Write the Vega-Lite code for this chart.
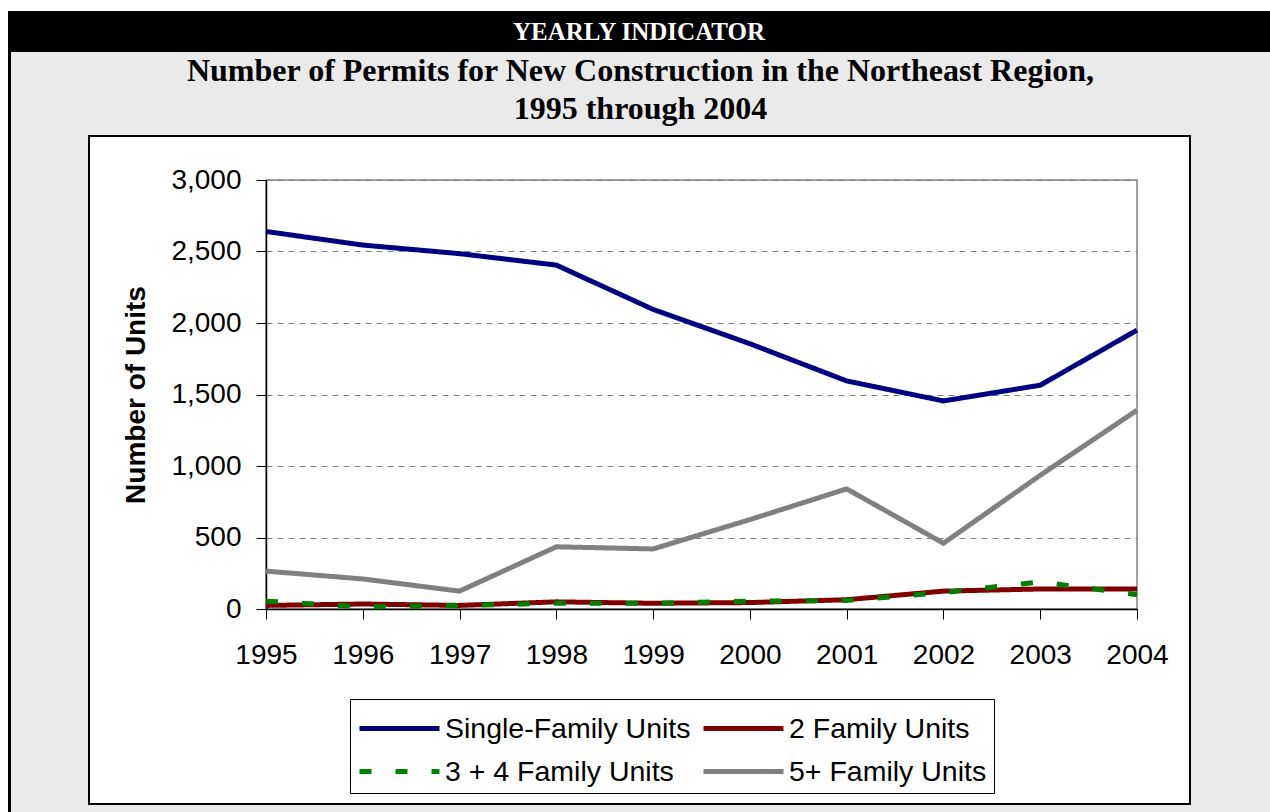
{
  "$schema": "https://vega.github.io/schema/vega-lite/v6.json",
  "background": "white",
  "padding": {"left": 8, "top": 11, "right": 0, "bottom": 0},
  "config": {
    "view": {"stroke": null},
    "axis": {"labelFont": "Liberation Sans", "titleFont": "Liberation Sans", "labelColor": "black", "titleColor": "black"}
  },
  "datasets": {
    "one": [{}],
    "titles": [
      {"line": 1, "label": "Number of Permits for New Construction in the Northeast Region,"},
      {"line": 2, "label": "1995 through 2004"}
    ],
    "permits": [
      {"year": 1995, "series": "Single-Family Units", "value": 2640},
      {"year": 1996, "series": "Single-Family Units", "value": 2545},
      {"year": 1997, "series": "Single-Family Units", "value": 2485},
      {"year": 1998, "series": "Single-Family Units", "value": 2405},
      {"year": 1999, "series": "Single-Family Units", "value": 2095},
      {"year": 2000, "series": "Single-Family Units", "value": 1855},
      {"year": 2001, "series": "Single-Family Units", "value": 1595},
      {"year": 2002, "series": "Single-Family Units", "value": 1455},
      {"year": 2003, "series": "Single-Family Units", "value": 1565},
      {"year": 2004, "series": "Single-Family Units", "value": 1950},
      {"year": 1995, "series": "2 Family Units", "value": 25},
      {"year": 1996, "series": "2 Family Units", "value": 35},
      {"year": 1997, "series": "2 Family Units", "value": 25},
      {"year": 1998, "series": "2 Family Units", "value": 50},
      {"year": 1999, "series": "2 Family Units", "value": 40},
      {"year": 2000, "series": "2 Family Units", "value": 45},
      {"year": 2001, "series": "2 Family Units", "value": 65},
      {"year": 2002, "series": "2 Family Units", "value": 125},
      {"year": 2003, "series": "2 Family Units", "value": 140},
      {"year": 2004, "series": "2 Family Units", "value": 140},
      {"year": 1995, "series": "3 + 4 Family Units", "value": 55},
      {"year": 1996, "series": "3 + 4 Family Units", "value": 15},
      {"year": 1997, "series": "3 + 4 Family Units", "value": 25},
      {"year": 1998, "series": "3 + 4 Family Units", "value": 40},
      {"year": 1999, "series": "3 + 4 Family Units", "value": 40},
      {"year": 2000, "series": "3 + 4 Family Units", "value": 55},
      {"year": 2001, "series": "3 + 4 Family Units", "value": 60},
      {"year": 2002, "series": "3 + 4 Family Units", "value": 115},
      {"year": 2003, "series": "3 + 4 Family Units", "value": 190},
      {"year": 2004, "series": "3 + 4 Family Units", "value": 100},
      {"year": 1995, "series": "5+ Family Units", "value": 265},
      {"year": 1996, "series": "5+ Family Units", "value": 210},
      {"year": 1997, "series": "5+ Family Units", "value": 125},
      {"year": 1998, "series": "5+ Family Units", "value": 435},
      {"year": 1999, "series": "5+ Family Units", "value": 420},
      {"year": 2000, "series": "5+ Family Units", "value": 625},
      {"year": 2001, "series": "5+ Family Units", "value": 840},
      {"year": 2002, "series": "5+ Family Units", "value": 460},
      {"year": 2003, "series": "5+ Family Units", "value": 935},
      {"year": 2004, "series": "5+ Family Units", "value": 1390}
    ]
  },
  "spacing": 0,
  "vconcat": [
    {
      "data": {"name": "one"},
      "width": 1262,
      "height": 41,
      "view": {"fill": "black", "stroke": null},
      "mark": {"type": "text", "text": "YEARLY INDICATOR", "font": "Liberation Serif", "fontWeight": "bold", "fontSize": 25, "color": "white", "align": "center", "baseline": "middle"}
    },
    {
      "spacing": 0,
      "hconcat": [
        {"data": {"name": "one"}, "width": 3, "height": 760, "view": {"fill": "black", "stroke": null}, "mark": {"type": "point", "opacity": 0, "size": 0, "strokeWidth": 0}},
        {
          "spacing": 0,
          "vconcat": [
            {
              "data": {"name": "titles"}, "width": 1259, "height": 83,
              "view": {"fill": "#eaeaea", "stroke": null},
              "mark": {"type": "text", "font": "Liberation Serif", "fontWeight": "bold", "fontSize": 32, "color": "black", "align": "center", "baseline": "middle"},
              "encoding": {
                "y": {"field": "line", "type": "ordinal", "scale": {"type": "point", "padding": 0.592, "align": 0.433}, "axis": null},
                "text": {"field": "label"}
              }
            },
            {
              "spacing": 0,
              "hconcat": [
                {"data": {"name": "one"}, "width": 77, "height": 677, "view": {"fill": "#eaeaea", "stroke": null}, "mark": {"type": "point", "opacity": 0, "size": 0, "strokeWidth": 0}},
                {
                  "spacing": 0,
                  "vconcat": [
                    {
                      "spacing": 0,
                      "hconcat": [
                        {"data": {"name": "one"}, "width": 2, "height": 670, "view": {"fill": "black", "stroke": null}, "mark": {"type": "point", "opacity": 0, "size": 0, "strokeWidth": 0}},
                        {
                          "spacing": 0,
                          "vconcat": [
                            {"data": {"name": "one"}, "width": 1099, "height": 2, "view": {"fill": "black", "stroke": null}, "mark": {"type": "point", "opacity": 0, "size": 0, "strokeWidth": 0}},
                            {
                              "columns": 3,
                              "bounds": "flush",
                              "spacing": 0,
                              "concat": [
                                {"data": {"name": "one"}, "width": 176, "height": 43, "mark": {"type": "point", "opacity": 0, "size": 0, "strokeWidth": 0}},
                                {"data": {"name": "one"}, "width": 871, "height": 43, "mark": {"type": "point", "opacity": 0, "size": 0, "strokeWidth": 0}},
                                {"data": {"name": "one"}, "width": 52, "height": 43, "mark": {"type": "point", "opacity": 0, "size": 0, "strokeWidth": 0}},
                                {"data": {"name": "one"}, "width": 176, "height": 429, "mark": {"type": "point", "opacity": 0, "size": 0, "strokeWidth": 0}},
                                {
                                  "data": {"name": "permits"},
                                  "width": 871,
                                  "height": 429,
                                  "view": {"fill": "white", "stroke": "#808080", "strokeWidth": 1.5},
                                  "mark": {"type": "line", "strokeWidth": 5},
                                  "encoding": {
                                    "x": {
                                      "field": "year",
                                      "type": "ordinal",
                                      "scale": {"type": "point", "padding": 0},
                                      "axis": {"title": null, "labelAngle": 0, "labelFontSize": 28, "labelPadding": 22, "tickSize": 10, "tickColor": "black", "domainColor": "black", "domainWidth": 1.5, "grid": false}
                                    },
                                    "y": {
                                      "field": "value",
                                      "type": "quantitative",
                                      "scale": {"domain": [0, 3000], "nice": false},
                                      "axis": {"values": [0, 500, 1000, 1500, 2000, 2500, 3000], "format": ",d", "title": "Number of Units", "titleFontSize": 28, "titleFontWeight": "bold", "titlePadding": 20, "labelFontSize": 28, "labelPadding": 15, "tickSize": 10, "tickColor": "black", "domainColor": "black", "domainWidth": 1.5, "grid": true, "gridColor": "#808080", "gridDash": [6, 5], "gridWidth": 1}
                                    },
                                    "color": {
                                      "field": "series",
                                      "type": "nominal",
                                      "scale": {"domain": ["Single-Family Units", "2 Family Units", "3 + 4 Family Units", "5+ Family Units"], "range": ["#000080", "#800000", "#008000", "#808080"]},
                                      "legend": {"orient": "none", "legendX": 342, "legendY": 688, "title": null, "columns": 2, "direction": "horizontal", "symbolType": "M-1,0H3", "symbolSize": 1600, "symbolStrokeWidth": 5, "labelFontSize": 28.5, "labelFont": "Liberation Sans", "labelColor": "black", "labelOffset": 43, "labelLimit": 400, "columnPadding": 2, "rowPadding": 6, "padding": 7, "strokeColor": "black", "fillColor": "white"}
                                    },
                                    "strokeDash": {
                                      "field": "series",
                                      "type": "nominal",
                                      "scale": {"domain": ["Single-Family Units", "2 Family Units", "3 + 4 Family Units", "5+ Family Units"], "range": [[1, 0], [1, 0], [12, 24], [1, 0]]},
                                      "legend": {"orient": "none", "legendX": 342, "legendY": 688, "title": null, "columns": 2, "direction": "horizontal", "symbolType": "M-1,0H3", "symbolSize": 1600, "symbolStrokeWidth": 5, "labelFontSize": 28.5, "labelFont": "Liberation Sans", "labelColor": "black", "labelOffset": 43, "labelLimit": 400, "columnPadding": 2, "rowPadding": 6, "padding": 7, "strokeColor": "black", "fillColor": "white"}
                                    }
                                  }
                                },
                                {"data": {"name": "one"}, "width": 52, "height": 429, "mark": {"type": "point", "opacity": 0, "size": 0, "strokeWidth": 0}},
                                {"data": {"name": "one"}, "width": 176, "height": 194, "mark": {"type": "point", "opacity": 0, "size": 0, "strokeWidth": 0}},
                                {"data": {"name": "one"}, "width": 871, "height": 194, "mark": {"type": "point", "opacity": 0, "size": 0, "strokeWidth": 0}},
                                {"data": {"name": "one"}, "width": 52, "height": 194, "mark": {"type": "point", "opacity": 0, "size": 0, "strokeWidth": 0}}
                              ]
                            },
                            {"data": {"name": "one"}, "width": 1099, "height": 2, "view": {"fill": "black", "stroke": null}, "mark": {"type": "point", "opacity": 0, "size": 0, "strokeWidth": 0}}
                          ]
                        },
                        {"data": {"name": "one"}, "width": 2, "height": 670, "view": {"fill": "black", "stroke": null}, "mark": {"type": "point", "opacity": 0, "size": 0, "strokeWidth": 0}}
                      ]
                    },
                    {"data": {"name": "one"}, "width": 1103, "height": 7, "view": {"fill": "#eaeaea", "stroke": null}, "mark": {"type": "point", "opacity": 0, "size": 0, "strokeWidth": 0}}
                  ]
                },
                {"data": {"name": "one"}, "width": 79, "height": 677, "view": {"fill": "#eaeaea", "stroke": null}, "mark": {"type": "point", "opacity": 0, "size": 0, "strokeWidth": 0}}
              ]
            }
          ]
        }
      ]
    }
  ]
}
